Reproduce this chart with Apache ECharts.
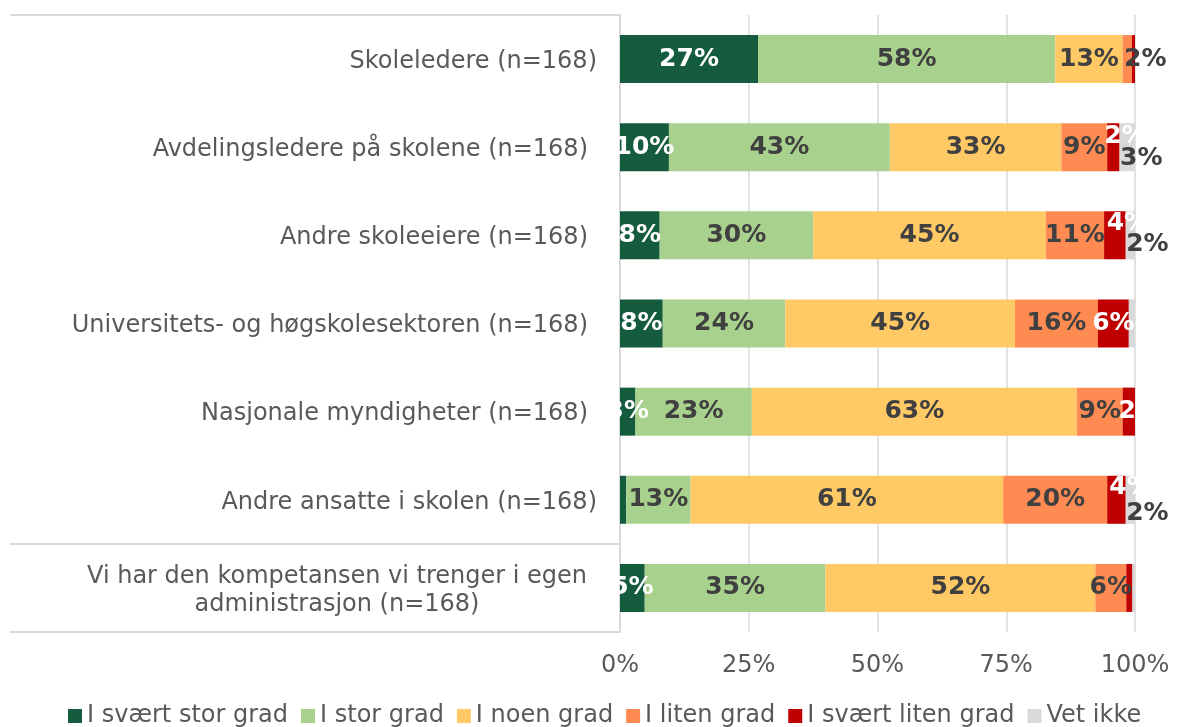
<!DOCTYPE html>
<html>
<head>
<meta charset="utf-8">
<script src="https://cdn.jsdelivr.net/npm/echarts@6/dist/echarts.min.js"></script>
<style>
  html, body { margin: 0; padding: 0; background: #ffffff; }
  #chart { width: 1179px; height: 727px; }
</style>
</head>
<body>
<div id="chart"></div>
<script>
// Survey rows, top to bottom
const categories = [
  'Skoleledere (n=168)',
  'Avdelingsledere på skolene (n=168)',
  'Andre skoleeiere (n=168)',
  'Universitets- og høgskolesektoren (n=168)',
  'Nasjonale myndigheter (n=168)',
  'Andre ansatte i skolen (n=168)',
  'Vi har den kompetansen vi trenger i egen administrasjon (n=168)'
];

// Answer options (legend order)
const answerNames = ['I svært stor grad', 'I stor grad', 'I noen grad', 'I liten grad', 'I svært liten grad', 'Vet ikke'];

// Share of respondents (%) per answer option, one value per row
const svaertStorGrad  = [26.8,  9.5,  7.7,  8.3,  3.0,  1.2,  4.8];
const storGrad        = [57.7, 42.9, 29.8, 23.8, 22.6, 12.5, 35.1];
const noenGrad        = [13.1, 33.3, 45.2, 44.6, 63.1, 60.7, 52.4];
const litenGrad       = [ 1.8,  8.9, 11.3, 16.1,  8.9, 20.2,  6.0];
const svaertLitenGrad = [ 0.6,  2.4,  4.2,  6.0,  2.4,  3.6,  1.2];
const vetIkke         = [ 0.0,  3.0,  1.8,  1.2,  0.0,  1.8,  0.5];

// Value axis tick labels
const tickLabels = ['0%', '25%', '50%', '75%', '100%'];

const seriesValues = [svaertStorGrad, storGrad, noenGrad, litenGrad, svaertLitenGrad, vetIkke];
const colors = ['#155B3E', '#A9D18E', '#FFC966', '#FF8B52', '#C00000', '#D9D9D9'];
const labelColors = ['#ffffff', '#404040', '#404040', '#404040', '#ffffff', '#404040'];

// Nudges for small segment labels that would otherwise collide ("series-row")
const labelNudge = {
  '3-0': [18, 0],
  '4-1': [12, -11], '5-1': [14, 11],
  '4-2': [13, -12], '5-2': [17, 9],
  '4-4': [11, 0],
  '4-5': [14, -12], '5-5': [17, 14]
};

const FONT = 'DejaVu Sans';
const lastIdx = categories.length - 1;

const series = seriesValues.map((vals, s) => ({
  name: answerNames[s],
  type: 'bar',
  stack: 'total',
  barWidth: 48,
  itemStyle: { color: colors[s] },
  label: {
    show: true,
    position: 'inside',
    fontFamily: FONT,
    fontWeight: 'bold',
    fontSize: 25,
    color: labelColors[s],
    formatter: p => (p.value >= 1.5 ? Math.round(p.value) + '%' : '')
  },
  labelLayout: p => {
    const n = labelNudge[s + '-' + p.dataIndex];
    return n ? { dx: n[0], dy: n[1], hideOverlap: false } : { hideOverlap: false };
  },
  emphasis: { disabled: true },
  data: vals
}));

const chart = echarts.init(document.getElementById('chart'), null, { renderer: 'canvas' });

chart.setOption({
  backgroundColor: '#ffffff',
  animation: false,
  textStyle: { fontFamily: FONT },
  grid: { left: 620, right: 44, top: 15, bottom: 95, containLabel: false },
  legend: {
    data: answerNames,
    left: 68,
    top: 704,
    padding: 0,
    icon: 'rect',
    itemWidth: 14,
    itemHeight: 14,
    itemGap: 13,
    textStyle: { fontFamily: FONT, fontSize: 24, color: '#595959' }
  },
  xAxis: {
    type: 'value',
    min: 0,
    max: 100,
    interval: 25,
    axisLine: { show: false },
    axisTick: { show: false },
    splitLine: { show: true, lineStyle: { color: '#D9D9D9', width: 1.5 } },
    axisLabel: {
      margin: 22,
      fontFamily: FONT,
      fontSize: 24,
      color: '#595959',
      formatter: v => tickLabels[Math.round(v / 25)]
    }
  },
  yAxis: {
    type: 'category',
    inverse: true,
    data: categories,
    axisLine: { show: true, lineStyle: { color: '#D9D9D9', width: 2 } },
    // group separators of the category axis: top, before the last row, bottom
    axisTick: {
      show: true,
      length: 610,
      interval: idx => idx === 0 || idx === lastIdx,
      lineStyle: { color: '#D9D9D9', width: 2 }
    },
    axisLabel: {
      margin: 23,
      padding: [5, 0, 0, 0],
      fontFamily: FONT,
      fontSize: 24,
      color: '#595959',
      formatter: (value, idx) => {
        if (idx === lastIdx) {
          return '{c|Vi har den kompetansen vi trenger i egen}\n{c|administrasjon (n=168)}';
        }
        if (idx === 0 || idx === 5) return '{n|' + value + '}';
        return '{p|' + value + '}';
      },
      rich: {
        n: { fontFamily: FONT, fontSize: 24, color: '#595959' },
        p: { fontFamily: FONT, fontSize: 24, color: '#595959', padding: [0, 9, 0, 0] },
        c: { fontFamily: FONT, fontSize: 24, color: '#595959', width: 520, align: 'center', lineHeight: 28 }
      }
    }
  },
  series: series
});
</script>
</body>
</html>
